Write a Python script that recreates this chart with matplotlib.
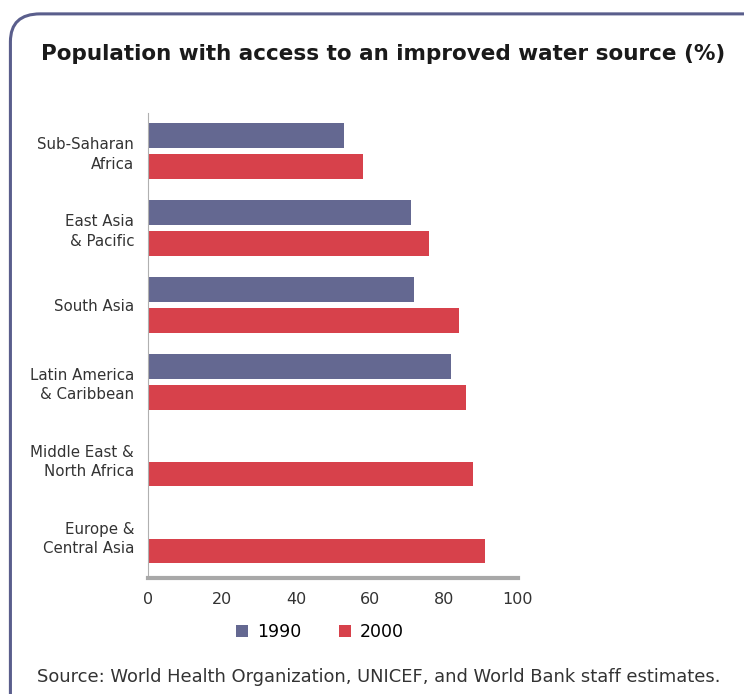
import numpy as np
import matplotlib.pyplot as plt
from matplotlib.patches import FancyBboxPatch

# Data
regions = ["Sub-Saharan\nAfrica", "East Asia\n& Pacific", "South Asia",
           "Latin America\n& Caribbean", "Middle East &\nNorth Africa",
           "Europe &\nCentral Asia"]
val_1990 = [53, 71, 72, 82, np.nan, np.nan]
val_2000 = [58, 76, 84, 86, 88, 91]
xticks = [0, 20, 40, 60, 80, 100]

c1990 = "#646891"
c2000 = "#d7414b"
frame_col = "#5a5e8c"
text_col = "#333333"

fig = plt.figure(figsize=(7.44, 6.94), dpi=100)

# rounded frame on the left/top
frame = FancyBboxPatch((0.014, -0.2), 1.2, 1.18, boxstyle="round,pad=0,rounding_size=0.04",
                       transform=fig.transFigure, fill=False, ec=frame_col, lw=2.2,
                       clip_on=False)
fig.patches.append(frame)

ax = fig.add_axes([0.199, 0.167, 0.497, 0.670])
y = np.arange(len(regions))
ax.barh(y - 0.2, val_1990, height=0.32, color=c1990, label="1990")
ax.barh(y + 0.2, val_2000, height=0.32, color=c2000, label="2000")

ax.set_xlim(0, 100)
ax.set_ylim(5.55, -0.49)
ax.set_xticks(xticks)
ax.set_yticks(y)
ax.set_yticklabels(regions)
ax.tick_params(axis="y", length=0, labelsize=10.8, colors=text_col, pad=10)
ax.tick_params(axis="x", length=0, labelsize=11.5, colors=text_col, pad=10)
for lab in ax.get_yticklabels():
    lab.set_horizontalalignment("right")
    lab.set_multialignment("right")
    lab.set_linespacing(1.35)
ax.spines["top"].set_visible(False)
ax.spines["right"].set_visible(False)
ax.spines["left"].set_color("#b0b0b0")
ax.spines["bottom"].set_color("#a8a8a8")
ax.spines["bottom"].set_linewidth(3)

fig.text(0.515, 0.922, "Population with access to an improved water source (%)",
         ha="center", va="center", fontsize=15.5, fontweight="bold", color="#1a1a1a")

fig.legend(loc="center", bbox_to_anchor=(0.43, 0.089), ncol=2, frameon=False,
           fontsize=12.5, handlelength=0.7, handleheight=0.7, columnspacing=2.2,
           handletextpad=0.5)

fig.text(0.05, 0.024, "Source: World Health Organization, UNICEF, and World Bank staff estimates.",
         ha="left", va="center", fontsize=12.9, color=text_col)

fig.savefig("out.png", dpi=100)
